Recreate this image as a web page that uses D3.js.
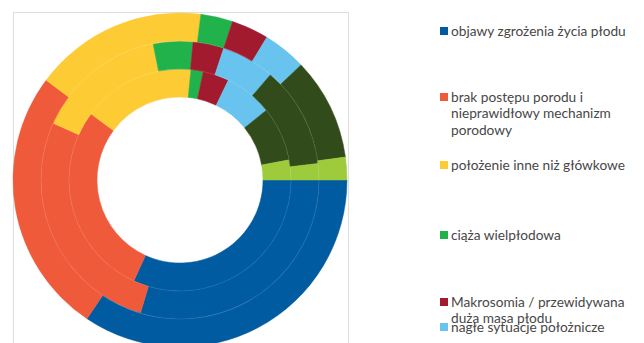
<!DOCTYPE html>
<html>
<head>
<meta charset="utf-8">
<script src="https://cdn.jsdelivr.net/npm/d3@7"></script>
<style>
  body { margin: 0; background: #fff; }
  svg { display: block; }
</style>
</head>
<body>
<div id="chart"></div>
<script>
// slice order (clockwise from 3 o'clock)
const categories = ["objawy", "brak postepu", "polozenie", "ciaza", "makrosomia", "nagle", "ciemnozielony", "jasnozielony"];
const colors = ["#005ba1", "#ef5a3b", "#fdcb33", "#22b24c", "#a21a2e", "#68c4ee", "#324b1b", "#9ecb3c"];

// percent shares, inner ring to outer ring
const ringInner  = [31.8, 28.3, 16.4, 1.8, 3.8, 7.0, 7.9, 2.9];
const ringMiddle = [29.6, 27.1, 15.2, 4.6, 3.6, 6.2, 11.8, 1.9];
const ringOuter  = [34.4, 25.8, 16.8, 3.1, 3.6, 4.2, 9.9, 2.2];

// legend texts (only the visible entries)
const legendLabels = [
  ["objawy zgrożenia życia płodu"],
  ["brak postępu porodu i", "nieprawidłowy mechanizm", "porodowy"],
  ["położenie inne niż główkowe"],
  ["ciąża wielpłodowa"],
  ["Makrosomia / przewidywana", "duża masa płodu"],
  ["nagłe sytuacje położnicze"]
];

const width = 644, height = 343;
const cx = 180, cy = 180;
const rHole = 83, ringW = 28;

const svg = d3.select("#chart").append("svg")
    .attr("width", width)
    .attr("height", height);

svg.append("rect")
    .attr("width", width).attr("height", height)
    .attr("fill", "#fff");

// chart area frame
svg.append("rect")
    .attr("x", 13.5).attr("y", 12.5)
    .attr("width", 335).attr("height", 345)
    .attr("fill", "none")
    .attr("stroke", "#dedede")
    .attr("stroke-width", 1);

const pie = d3.pie()
    .sort(null)
    .value(d => d)
    .startAngle(Math.PI / 2)
    .endAngle(Math.PI / 2 + 2 * Math.PI);

const g = svg.append("g").attr("transform", `translate(${cx},${cy})`);

[ringInner, ringMiddle, ringOuter].forEach((ring, i) => {
    const arc = d3.arc()
        .innerRadius(rHole + i * ringW)
        .outerRadius(rHole + (i + 1) * ringW);

    g.append("g")
        .selectAll("path")
        .data(pie(ring))
        .join("path")
        .attr("d", arc)
        .attr("fill", (d, j) => colors[j])
        .attr("stroke", (d, j) => colors[j])
        .attr("stroke-width", 0.5);
});

// faint ring separators
[1, 2].forEach(k => {
    g.append("circle")
        .attr("r", rHole + k * ringW)
        .attr("fill", "none")
        .attr("stroke", "#fff")
        .attr("stroke-opacity", 0.1)
        .attr("stroke-width", 1);
});

// legend
const legendTop = [31, 97, 165, 235, 302, 327];
const lineH = 16.5;

const legend = svg.append("g")
    .attr("font-family", "Lato, 'Open Sans', sans-serif")
    .attr("font-size", "13.7px")
    .attr("fill", "#474747");

legendLabels.forEach((lines, i) => {
    const y = legendTop[i];
    legend.append("rect")
        .attr("x", 440).attr("y", y - 4)
        .attr("width", 8).attr("height", 8)
        .attr("fill", colors[i]);

    const t = legend.append("text")
        .attr("x", 451)
        .attr("y", y + 4.5);
    lines.forEach((line, k) => {
        t.append("tspan")
            .attr("x", 451)
            .attr("dy", k === 0 ? 0 : lineH)
            .text(line);
    });
});
</script>
</body>
</html>
